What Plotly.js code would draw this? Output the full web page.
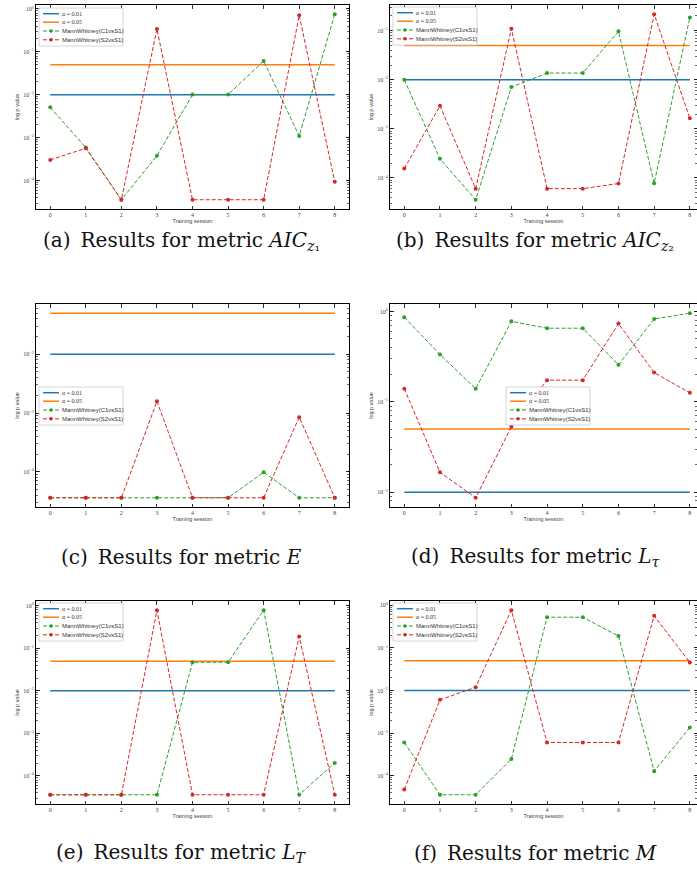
<!DOCTYPE html>
<html><head><meta charset="utf-8">
<script src="https://cdn.plot.ly/plotly-3.0.1.min.js"></script>
<style>html,body{margin:0;padding:0;background:#fff}#chart{width:697px;height:870px}</style>
</head><body><div id="chart"></div>
<script>
// ---------- data ----------
const sessions = [0, 1, 2, 3, 4, 5, 6, 7, 8];
const alphaStrict = 0.01;
const alphaLoose = 0.05;
const alphaNames = ['<i>α</i> = 0.01', '<i>α</i> = 0.05'];
const seriesNames = ['MannWhitney(C1vsS1)', 'MannWhitney(S2vsS1)'];
const yTickVals = [1e-4, 1e-3, 1e-2, 1e-1, 1];
const yTickText = ['10<sup>−4</sup>', '10<sup>−3</sup>', '10<sup>−2</sup>', '10<sup>−1</sup>', '10<sup>0</sup>'];
const xTitle = 'Training session';
const yTitle = 'log p value';
const captions = [
  '(a)\u2002Results for metric <i>AIC</i><sub><i>z</i>₁</sub>',
  '(b)\u2002Results for metric <i>AIC</i><sub><i>z</i>₂</sub>',
  '(c)\u2002Results for metric <i>E</i>',
  '(d)\u2002Results for metric <i>L</i><sub><i>τ</i></sub>',
  '(e)\u2002Results for metric <i>L</i><sub><i>T</i></sub>',
  '(f)\u2002Results for metric <i>M</i>'
];
const aicZ1C1 = [5.1e-3, 5.9e-4, 3.6e-5, 3.8e-4, 0.0101, 0.0101, 0.061, 1.1e-3, 0.75];
const aicZ1S2 = [3.05e-4, 5.7e-4, 3.6e-5, 0.34, 3.6e-5, 3.6e-5, 3.6e-5, 0.71, 9.4e-5];
const aicZ2C1 = [0.01, 2.45e-4, 3.6e-5, 7.1e-3, 0.0137, 0.0137, 0.097, 7.8e-5, 0.186];
const aicZ2S2 = [1.55e-4, 2.94e-3, 6.05e-5, 0.11, 6.05e-5, 6.05e-5, 7.7e-5, 0.216, 1.64e-3];
const eC1 = [3.6e-5, 3.6e-5, 3.6e-5, 3.6e-5, 3.6e-5, 3.6e-5, 9.8e-5, 3.6e-5, 3.6e-5];
const eS2 = [3.6e-5, 3.6e-5, 3.6e-5, 1.58e-3, 3.6e-5, 3.6e-5, 3.6e-5, 8.5e-4, 3.6e-5];
const lTauC1 = [0.866, 0.335, 0.14, 0.78, 0.655, 0.655, 0.258, 0.83, 0.96];
const lTauS2 = [0.14, 0.0166, 8.66e-3, 0.053, 0.174, 0.174, 0.737, 0.211, 0.126];
const lTC1 = [3.6e-5, 3.6e-5, 3.6e-5, 3.6e-5, 0.047, 0.047, 0.787, 3.6e-5, 2.02e-4];
const lTS2 = [3.6e-5, 3.6e-5, 3.6e-5, 0.787, 3.6e-5, 3.6e-5, 3.6e-5, 0.19, 3.6e-5];
const mC1 = [6.06e-4, 3.6e-5, 3.6e-5, 2.48e-4, 0.526, 0.526, 0.19, 1.29e-4, 1.36e-3];
const mS2 = [4.8e-5, 6.06e-3, 0.012, 0.766, 6.06e-4, 6.06e-4, 6.06e-4, 0.565, 0.0456];

// ---------- layout config (pixels on the 697x870 page) ----------
const W = 697, H = 870;
const panels = [
  {c1: aicZ1C1, s2: aicZ1S2, left: 36, right: 349, top: 5, bottom: 209, xmax: 8.4, leg: [39, 8], cap: [181, 241]},
  {c1: aicZ2C1, s2: aicZ2S2, left: 390, right: 697, top: 5, bottom: 209, xmax: 8.2, leg: [393, 7], cap: [535, 241]},
  {c1: eC1, s2: eS2, left: 36, right: 349, top: 304, bottom: 507, xmax: 8.4, leg: [39, 387], cap: [181, 557]},
  {c1: lTauC1, s2: lTauS2, left: 390, right: 697, top: 304, bottom: 507, xmax: 8.2, leg: [506, 387], cap: [535, 557]},
  {c1: lTC1, s2: lTS2, left: 36, right: 349, top: 601, bottom: 804, xmax: 8.4, leg: [39, 603], cap: [181, 853]},
  {c1: mC1, s2: mS2, left: 390, right: 697, top: 601, bottom: 804, xmax: 8.2, leg: [393, 603], cap: [535, 853]}
];
const COLORS = {blue: '#1f77b4', orange: '#ff7f0e', green: '#2ca02c', red: '#d62728'};
const SANS = 'Liberation Sans, Arial, sans-serif';
const NUM = 'Liberation Serif, Times New Roman, serif';
const SERIF = 'DejaVu Serif, serif';
const px = x => x / W;
const py = y => 1 - y / H;

const data = [];
const layout = {
  width: W, height: H, margin: {l: 0, r: 0, t: 0, b: 0},
  paper_bgcolor: '#fff', plot_bgcolor: '#fff', showlegend: false,
  font: {family: SANS, color: '#222'},
  shapes: [], annotations: []
};

panels.forEach((p, i) => {
  const n = i + 1;
  const xa = 'x' + (n === 1 ? '' : n), ya = 'y' + (n === 1 ? '' : n);
  const xk = 'xaxis' + (n === 1 ? '' : n), yk = 'yaxis' + (n === 1 ? '' : n);
  const flat = (v) => sessions.map(() => v);
  data.push({x: sessions, y: flat(alphaStrict), xaxis: xa, yaxis: ya, mode: 'lines', line: {color: COLORS.blue, width: 1.5}, hoverinfo: 'skip'});
  data.push({x: sessions, y: flat(alphaLoose), xaxis: xa, yaxis: ya, mode: 'lines', line: {color: COLORS.orange, width: 1.5}, hoverinfo: 'skip'});
  data.push({x: sessions, y: p.c1, xaxis: xa, yaxis: ya, mode: 'lines+markers', line: {color: COLORS.green, width: 1, dash: '4px,2px'}, marker: {color: COLORS.green, size: 4}});
  data.push({x: sessions, y: p.s2, xaxis: xa, yaxis: ya, mode: 'lines+markers', line: {color: COLORS.red, width: 1, dash: '4px,2px'}, marker: {color: COLORS.red, size: 4}});

  const all = p.c1.concat(p.s2, [alphaStrict, alphaLoose]).map(v => Math.log10(v));
  const lo = Math.min(...all), hi = Math.max(...all), pad = (hi - lo) * 0.05;

  const axCommon = {
    showgrid: false, zeroline: false, showline: true, linecolor: '#000', linewidth: 1,
    mirror: 'ticks', ticks: 'inside', ticklen: 3.5, tickwidth: 0.8, tickcolor: '#000',
    automargin: false, tickfont: {family: NUM, size: 6, color: '#444'}
  };
  layout[xk] = Object.assign({}, axCommon, {
    domain: [px(p.left), px(p.right)], anchor: ya, range: [-0.4, p.xmax],
    tickmode: 'array', tickvals: sessions, ticktext: sessions.map(String),
    title: {text: xTitle, font: {family: SANS, size: 5.5, color: '#444'}, standoff: 1}
  });
  layout[yk] = Object.assign({}, axCommon, {
    domain: [py(p.bottom), py(p.top)], anchor: xa, type: 'log', range: [lo - pad, hi + pad],
    tickmode: 'array', tickvals: yTickVals, ticktext: yTickText,
    minor: {ticks: 'inside', ticklen: 2, tickwidth: 0.6, tickcolor: '#000', dtick: 'D1', showgrid: false},
    title: {text: yTitle, font: {family: SANS, size: 5.5, color: '#444'}, standoff: 3}
  });

  // legend (drawn as decoration)
  const [lx, ly] = p.leg;
  const lw = 84, lh = 38;
  layout.shapes.push({type: 'rect', xref: 'paper', yref: 'paper', x0: px(lx), x1: px(lx + lw), y0: py(ly + lh), y1: py(ly),
    fillcolor: 'rgba(255,255,255,0.85)', line: {color: '#cccccc', width: 0.8}});
  const rows = [5.7, 14.2, 23, 31.8];
  const entries = [
    {name: alphaNames[0], color: COLORS.blue, dash: 'solid', w: 1.5, mk: false, font: NUM},
    {name: alphaNames[1], color: COLORS.orange, dash: 'solid', w: 1.5, mk: false, font: NUM},
    {name: seriesNames[0], color: COLORS.green, dash: '4px,2px', w: 1, mk: true, font: SANS},
    {name: seriesNames[1], color: COLORS.red, dash: '4px,2px', w: 1, mk: true, font: SANS}
  ];
  entries.forEach((e, k) => {
    const yy = ly + rows[k];
    layout.shapes.push({type: 'line', xref: 'paper', yref: 'paper', x0: px(lx + 4), x1: px(lx + 20), y0: py(yy), y1: py(yy),
      line: {color: e.color, width: e.w, dash: e.dash}});
    if (e.mk) {
      layout.shapes.push({type: 'circle', xref: 'paper', yref: 'paper', xsizemode: 'pixel', ysizemode: 'pixel',
        xanchor: px(lx + 12), yanchor: py(yy), x0: -1.8, x1: 1.8, y0: -1.8, y1: 1.8, fillcolor: e.color, line: {width: 0}});
    }
    layout.annotations.push({xref: 'paper', yref: 'paper', x: px(lx + 21), y: py(yy), xanchor: 'left', yanchor: 'middle',
      text: e.name, showarrow: false, font: {family: e.font, size: 6, color: '#333'}});
  });

  layout.annotations.push({xref: 'paper', yref: 'paper', x: px(p.cap[0]), y: py(p.cap[1]), xanchor: 'center', yanchor: 'middle',
    text: captions[i], showarrow: false, font: {family: SERIF, size: 20, color: '#111'}});
});

Plotly.newPlot('chart', data, layout, {staticPlot: true, displayModeBar: false});
</script>
</body></html>
